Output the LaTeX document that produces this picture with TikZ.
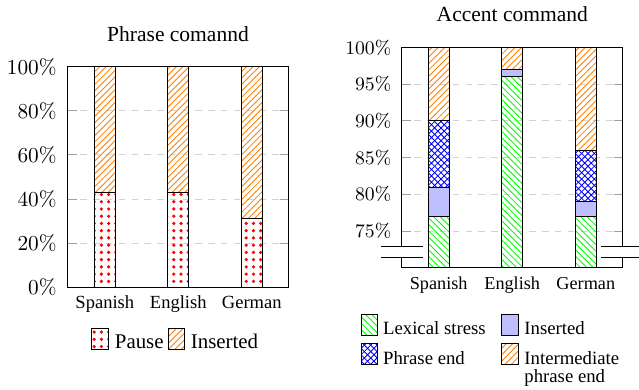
\documentclass[tikz,border=0pt]{standalone}
\usepackage[no-math]{fontspec}
\setmainfont{Liberation Serif}
\usetikzlibrary{patterns}
\pgfdeclarepatternformonly{bigdots}{\pgfqpoint{-1pt}{-1pt}}{\pgfqpoint{1pt}{1pt}}{\pgfqpoint{3.4pt}{3.4pt}}{%
  \pgfpathcircle{\pgfqpoint{0pt}{0pt}}{0.85pt}\pgfusepath{fill}}
\newcommand\szTitle{\fontsize{10.1}{12}\selectfont}
\newcommand\szLTick{\fontsize{10}{12}\selectfont}
\newcommand\szLCat{\fontsize{8.7}{10}\selectfont}
\newcommand\szLLeg{\fontsize{9.8}{11}\selectfont}
\newcommand\szRTick{\fontsize{9}{11}\selectfont}
\newcommand\szRCat{\fontsize{8.55}{10}\selectfont}
\newcommand\szRLeg{\fontsize{8.8}{8.2}\selectfont}
\tikzset{
  axisbox/.style={draw=black, line width=0.45pt},
  gridline/.style={draw=gray!35, dashed, line width=0.45pt},
  tickmark/.style={draw=gray!75, line width=0.45pt},
  barseg/.style={draw=black, line width=0.45pt},
  pausefill/.style={pattern=bigdots, pattern color=red},
  insfill/.style={pattern=north east lines, pattern color=orange},
  lexfill/.style={pattern=north west lines, pattern color=green},
  phrfill/.style={pattern=crosshatch, pattern color=blue},
  insrfill/.style={fill=blue!25},
  ticklab/.style={anchor=east, inner sep=0pt},
  catlab/.style={anchor=base, inner sep=0pt},
  leglab/.style={anchor=base west, inner sep=0pt},
  breakmark/.style={draw=black, line width=0.45pt},
}
\begin{document}
\begin{tikzpicture}[x=0.4695pt,y=-0.4695pt]
\useasboundingbox (0,0) rectangle (639,390);

% ================= LEFT PLOT =================
\foreach \yy in {243.2,199.1,154.9,110.8}{
  \draw[gridline] (67.7,\yy) -- (288.7,\yy);
  \draw[tickmark] (67.7,\yy) -- (76.7,\yy);
  \draw[tickmark] (288.7,\yy) -- (279.7,\yy);
}
% bars
\draw[barseg,pausefill] (94.3,287.3) rectangle (115.3,192.4);
\draw[barseg,insfill]   (94.3,192.4) rectangle (115.3,66.7);
\draw[barseg,pausefill] (167.8,287.3) rectangle (188.8,192.4);
\draw[barseg,insfill]   (167.8,192.4) rectangle (188.8,66.7);
\draw[barseg,pausefill] (241.3,287.3) rectangle (262.3,218.9);
\draw[barseg,insfill]   (241.3,218.9) rectangle (262.3,66.7);
\draw[axisbox] (67.7,66.7) rectangle (288.7,287.3);

\node[anchor=base, inner sep=0pt, font=\szTitle] (ltitle) at (178,41) {Phrase comannd};
\node[ticklab,font=\szLTick] (lt0)   at (57,287.3) {$0\%$};
\node[ticklab,font=\szLTick] (lt20)  at (57,243.2) {$20\%$};
\node[ticklab,font=\szLTick] (lt40)  at (57,199.1) {$40\%$};
\node[ticklab,font=\szLTick] (lt60)  at (57,154.9) {$60\%$};
\node[ticklab,font=\szLTick] (lt80)  at (57,110.8) {$80\%$};
\node[ticklab,font=\szLTick] (lt100) at (57,66.7)  {$100\%$};
\node[catlab,font=\szLCat] (lc1) at (104.8,308.3) {Spanish};
\node[catlab,font=\szLCat] (lc2) at (178.3,308.3) {English};
\node[catlab,font=\szLCat] (lc3) at (251.8,308.3) {German};
% legend
\draw[barseg,pausefill] (91.7,328.3) rectangle (108.3,349.3);
\node[leglab,font=\szLLeg] (llg1) at (114.5,348.3) {Pause};
\draw[barseg,insfill] (168.3,328.3) rectangle (184.3,349.3);
\node[leglab,font=\szLLeg] (llg2) at (190.5,348.3) {Inserted};

% ================= RIGHT PLOT =================
\foreach \yy in {231.0,194.3,157.6,120.9,84.2}{
  \draw[gridline] (401.7,\yy) -- (622.7,\yy);
  \draw[tickmark] (401.7,\yy) -- (410.7,\yy);
  \draw[tickmark] (622.7,\yy) -- (613.7,\yy);
}
% Spanish
\draw[barseg,lexfill]  (428.2,267.7) rectangle (449.2,216.3);
\draw[barseg,insrfill] (428.2,216.3) rectangle (449.2,187.0);
\draw[barseg,phrfill]  (428.2,187.0) rectangle (449.2,120.9);
\draw[barseg,insfill]  (428.2,120.9) rectangle (449.2,47.5);
% English
\draw[barseg,lexfill]  (501.7,267.7) rectangle (522.7,76.9);
\draw[barseg,insrfill] (501.7,76.9) rectangle (522.7,69.5);
\draw[barseg,insfill]  (501.7,69.5) rectangle (522.7,47.5);
% German
\draw[barseg,lexfill]  (575.3,267.7) rectangle (596.3,216.3);
\draw[barseg,insrfill] (575.3,216.3) rectangle (596.3,201.6);
\draw[barseg,phrfill]  (575.3,201.6) rectangle (596.3,150.3);
\draw[barseg,insfill]  (575.3,150.3) rectangle (596.3,47.5);
\draw[axisbox] (401.7,47.5) rectangle (622.7,267.7);
% axis breaks
\fill[white] (381,246) rectangle (423.3,257);
\draw[breakmark] (381,246) -- (423.3,246) (381,257) -- (423.3,257);
\fill[white] (601,246) rectangle (639,257);
\draw[breakmark] (601,246) -- (639,246) (601,257) -- (639,257);

\node[anchor=base, inner sep=0pt, font=\szTitle] (rtitle) at (512.3,21.5) {Accent command};
\node[ticklab,font=\szRTick] (rt75)  at (391.7,231.0) {$75\%$};
\node[ticklab,font=\szRTick] (rt80)  at (391.7,194.3) {$80\%$};
\node[ticklab,font=\szRTick] (rt85)  at (391.7,157.6) {$85\%$};
\node[ticklab,font=\szRTick] (rt90)  at (391.7,120.9) {$90\%$};
\node[ticklab,font=\szRTick] (rt95)  at (391.7,84.2)  {$95\%$};
\node[ticklab,font=\szRTick] (rt100) at (391.7,47.5)  {$100\%$};
\node[catlab,font=\szRCat] (rc1) at (438.7,289.3) {Spanish};
\node[catlab,font=\szRCat] (rc2) at (512.2,289.3) {English};
\node[catlab,font=\szRCat] (rc3) at (585.8,289.3) {German};
% legend
\draw[barseg,lexfill]  (361,314) rectangle (377.5,335);
\node[leglab,font=\szRLeg] (rlg1) at (382.7,334.3) {Lexical stress};
\draw[barseg,insrfill] (501.7,314) rectangle (518.3,335);
\node[leglab,font=\szRLeg] (rlg2) at (524,334.3) {Inserted};
\draw[barseg,phrfill]  (361,343.5) rectangle (377.5,364.8);
\node[leglab,font=\szRLeg] (rlg3) at (382.7,364.3) {Phrase end};
\draw[barseg,insfill]  (501.7,343.5) rectangle (518.3,364.8);
\node[anchor=north west, inner sep=0pt, align=left, font=\szRLeg] (rlg4) at (524,351.5) {Intermediate\\phrase end};
\end{tikzpicture}
\end{document}
